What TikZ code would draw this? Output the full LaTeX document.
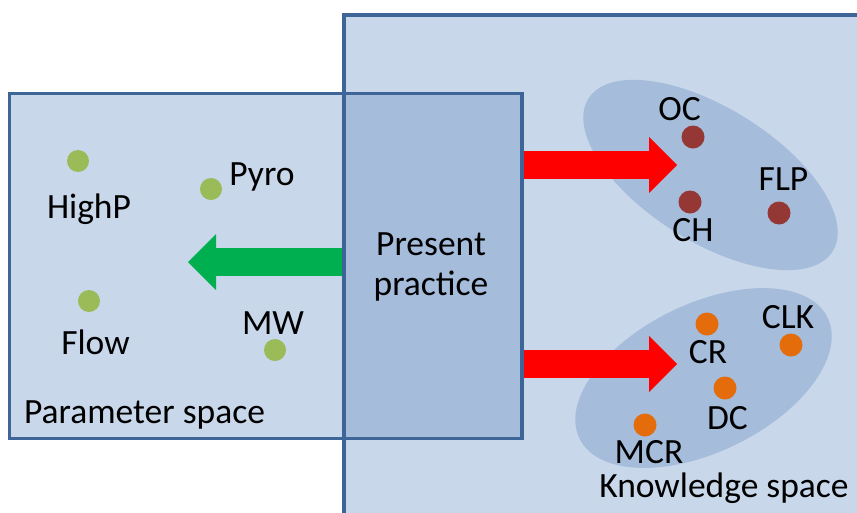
\documentclass[tikz,border=0pt]{standalone}
\usepackage{fontspec}
\setmainfont{Carlito}
\usetikzlibrary{shapes.geometric,arrows.meta}
\definecolor{lightfill}{HTML}{C8D7EA}
\definecolor{darkfill}{HTML}{A5BCDB}
\definecolor{bordercol}{HTML}{3D6597}
\definecolor{greendot}{HTML}{9BBB59}
\definecolor{reddot}{HTML}{953735}
\definecolor{orangedot}{HTML}{E46C0A}
\definecolor{greenarrow}{HTML}{00B050}
\begin{document}
\begin{tikzpicture}[x=1pt,y=-1pt,
  lbl/.style={font=\fontsize{35.5}{40}\selectfont, inner sep=0, anchor=base},
  dot/.style={circle, inner sep=0, minimum size=23},
  box/.style={rectangle, inner sep=0, outer sep=0},
  blob/.style={ellipse, inner sep=0, fill=darkfill},
  border/.style={draw=bordercol, line width=3.2},
  fat/.style={line width=28, -{Triangle[length=28pt,width=56pt,line width=0pt]}}
]
\useasboundingbox (0,0) rectangle (857,512);
\clip (0,0) rectangle (857,512);
% spaces
\node[box, fill=lightfill, minimum width=536, minimum height=515] (know) at (612,272.5) {};
\node[box, fill=lightfill, minimum width=512.5, minimum height=345] (param) at (265.75,266) {};
\node[box, fill=darkfill, minimum width=178, minimum height=345] (pp) at (433,266) {};
\node[font=\fontsize{35.5}{39.5}\selectfont, align=center, inner sep=0] (pptext) at (431,267) {Present\\practice};
% knowledge clusters
\node[blob, minimum width=288, minimum height=134, rotate=-32] (kt) at (710.5,175) {};
\node[blob, minimum width=276, minimum height=148, rotate=26] (kb) at (703.5,378) {};
% arrows
\coordinate (rt1) at (677,165);
\coordinate (rt2) at (677,364);
\coordinate (gt) at (188,262);
\draw[fat, red] (pp.east |- rt1) -- (rt1);
\draw[fat, red] (pp.east |- rt2) -- (rt2);
\draw[fat, greenarrow] (pp.west |- gt) -- (gt);
% borders
\draw[border] (know.north west) rectangle (know.south east);
\draw[border] (param.north west) rectangle (param.south east);
% parameter dots
\node[dot, fill=greendot, minimum size=22] (dhighp) at (78,161) {};
\node[dot, fill=greendot, minimum size=22] (dpyro) at (211,189) {};
\node[dot, fill=greendot, minimum size=22] (dflow) at (89,301) {};
\node[dot, fill=greendot, minimum size=22] (dmw) at (275,350) {};
\node[lbl] (lhighp) at (89,218) {HighP};
\node[lbl] (lpyro) at (262,185) {Pyro};
\node[lbl] (lflow) at (95.5,354) {Flow};
\node[lbl] (lmw) at (273,334) {MW};
\node[lbl] (lparam) at (144.5,423) {Parameter space};
% knowledge dots
\node[dot, fill=reddot] (doc) at (693,137) {};
\node[dot, fill=reddot] (dch) at (690,202) {};
\node[dot, fill=reddot] (dflp) at (779,213) {};
\node[lbl] (loc) at (679.5,120) {OC};
\node[lbl] (lch) at (693,241) {CH};
\node[lbl] (lflp) at (783.5,190) {FLP};
\node[dot, fill=orangedot] (dcr) at (707,324) {};
\node[dot, fill=orangedot] (dclk) at (791,345) {};
\node[dot, fill=orangedot] (ddc) at (725,388) {};
\node[dot, fill=orangedot] (dmcr) at (645,425) {};
\node[lbl] (lcr) at (708,363) {CR};
\node[lbl] (lclk) at (788,328) {CLK};
\node[lbl] (ldc) at (727.5,429) {DC};
\node[lbl] (lmcr) at (649,463) {MCR};
\node[lbl] (lknow) at (724,497) {Knowledge space};
\end{tikzpicture}
\end{document}
